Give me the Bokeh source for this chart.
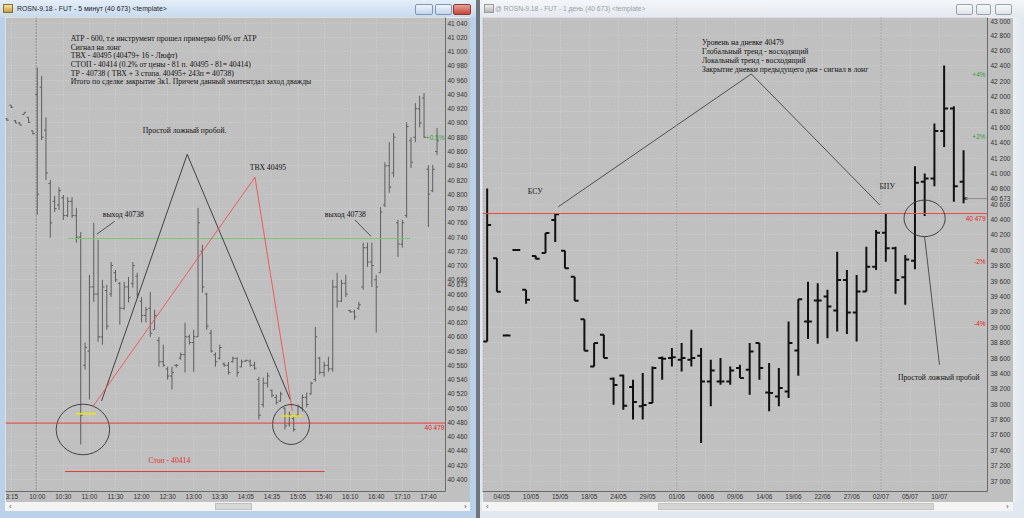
from bokeh.plotting import figure
from bokeh.layouts import row, column
from bokeh.models import ColumnDataSource, FixedTicker, Span, Range1d, Div
from bokeh.core.properties import value
from bokeh.embed import file_html
from bokeh.resources import INLINE

# ---------------- 5-minute chart data ----------------
m5_index = list(range(-7, 93))
m5_high = [40907, 40925, 40904, 40901, 40915, 40908, 40889,
           40978, 40966, 40908, 40820, 40798, 40810, 40799, 40796, 40796, 40781,
           40747, 40592, 40687, 40760, 40736, 40680, 40673, 40705, 40694, 40677,
           40677, 40684, 40705, 40690, 40656, 40642, 40663, 40638, 40600, 40589,
           40558, 40558, 40562, 40578, 40620, 40603, 40610, 40781, 40729, 40662,
           40610, 40578, 40589, 40564, 40565, 40572, 40571, 40568, 40568, 40568,
           40565, 40544, 40543, 40550, 40526, 40519, 40523, 40501, 40495, 40488,
           40505, 40519, 40522, 40537, 40614, 40572, 40565, 40572, 40680, 40690,
           40680, 40687, 40638, 40638, 40649, 40732, 40732, 40732, 40687, 40782,
           40845, 40873, 40886, 40764, 40764, 40901, 40880, 40928, 40938, 40942,
           40841, 40841, 40893]
m5_low = [40903, 40921, 40900, 40897, 40912, 40900, 40884,
          40771, 40876, 40820, 40739, 40775, 40778, 40764, 40768, 40767, 40732,
          40449, 40554, 40512, 40649, 40593, 40589, 40610, 40656, 40677, 40617,
          40638, 40648, 40669, 40655, 40620, 40620, 40600, 40610, 40558, 40558,
          40540, 40526, 40557, 40568, 40550, 40589, 40551, 40600, 40662, 40610,
          40578, 40558, 40568, 40558, 40547, 40564, 40544, 40557, 40565, 40558,
          40554, 40484, 40501, 40529, 40515, 40505, 40509, 40470, 40474, 40467,
          40488, 40495, 40501, 40519, 40537, 40547, 40544, 40551, 40551, 40641,
          40649, 40656, 40634, 40624, 40638, 40666, 40698, 40670, 40606, 40690,
          40782, 40802, 40824, 40712, 40725, 40767, 40837, 40873, 40894, 40879,
          40754, 40803, 40855]
m5_open = [40906, 40925, 40903, 40900, 40912, 40908, 40889,
           40940, 40950, 40890, 40815, 40790, 40785, 40795, 40770, 40790, 40770,
           40740, 40560, 40580, 40670, 40660, 40600, 40665, 40660, 40690, 40675,
           40640, 40670, 40675, 40685, 40650, 40630, 40640, 40610, 40595, 40565,
           40555, 40545, 40560, 40570, 40575, 40600, 40592, 40600, 40720, 40660,
           40605, 40575, 40570, 40562, 40560, 40565, 40570, 40558, 40566, 40566,
           40560, 40540, 40505, 40535, 40525, 40515, 40510, 40500, 40478, 40485,
           40490, 40500, 40515, 40520, 40540, 40570, 40550, 40560, 40555, 40670,
           40650, 40675, 40637, 40635, 40640, 40670, 40725, 40705, 40680, 40690,
           40785, 40840, 40830, 40760, 40730, 40770, 40875, 40880, 40920, 40935,
           40835, 40805, 40860]
m5_close = [40904, 40922, 40900, 40897, 40915, 40901, 40885,
            40800, 40880, 40830, 40760, 40780, 40805, 40770, 40790, 40770, 40740,
            40490, 40585, 40670, 40660, 40600, 40670, 40615, 40700, 40680, 40640,
            40670, 40655, 40700, 40660, 40630, 40638, 40605, 40630, 40565, 40560,
            40545, 40550, 40560, 40575, 40600, 40592, 40600, 40760, 40670, 40615,
            40580, 40565, 40585, 40560, 40550, 40570, 40550, 40565, 40567, 40560,
            40556, 40490, 40535, 40545, 40518, 40508, 40520, 40475, 40490, 40470,
            40502, 40515, 40505, 40535, 40600, 40550, 40560, 40555, 40670, 40650,
            40675, 40660, 40635, 40628, 40645, 40725, 40705, 40700, 40670, 40775,
            40840, 40810, 40880, 40730, 40760, 40895, 40845, 40920, 40900, 40880,
            40800, 40835, 40875]
m5_tick_pos = [-6, 0, 6, 12, 18, 24, 30, 36, 42, 48, 54, 60, 66, 72, 78, 84, 90]
m5_tick_labels = ["3:15", "10:00", "10:30", "11:00", "11:30", "12:00", "12:30", "13:00",
                  "13:30", "14:05", "14:35", "15:05", "15:40", "16:10", "16:40", "17:10", "17:40"]
m5_price_ticks = list(range(40400, 41041, 20))

# ---------------- daily chart data ----------------
d1_index = list(range(1, 51))
d1_open = [38815, 39897, 38892, 40005, 39486, 39927, 39966, 40394, 39996, 39658,
           39105, 38490, 38902, 38330, 38373, 38223, 37971, 38015, 38600, 38599,
           38577, 38577, 38629, 38296, 38296, 38296, 38469, 38447, 38794, 38153,
           38101, 38166, 38698, 39074, 39347, 39399, 39217, 39615, 39191, 39464,
           39788, 40229, 40027, 39650, 39866, 40891, 40935, 41553, 41843, 40891]
d1_high = [40805, 39897, 38905, 40015, 39486, 39930, 40225, 40479, 39996, 39658,
           39105, 38794, 38902, 38348, 38382, 38318, 38405, 38490, 38620, 38729,
           38794, 38966, 38729, 38577, 38599, 38490, 38512, 38794, 38794, 38534,
           38469, 39074, 39365, 39593, 39572, 39486, 39983, 39745, 39680, 40048,
           40264, 40472, 40048, 39940, 41095, 41000, 41649, 42405, 41873, 41302]
d1_low = [38815, 39463, 38885, 39995, 39304, 39885, 39966, 40108, 39767, 39343,
          38694, 38490, 38599, 37993, 37928, 37799, 37799, 38015, 38318, 38490,
          38425, 38490, 37496, 37971, 38253, 38253, 38340, 38123, 38318, 37906,
          37971, 38080, 38369, 38846, 38785, 38858, 38944, 38911, 38815, 39464,
          39745, 39853, 39434, 39291, 39754, 40446, 40835, 41345, 40631, 40611]
d1_close = [40329, 39463, 38892, 40005, 39356, 39890, 40225, 40470, 39767, 39343,
            38694, 38794, 38599, 38250, 37980, 38028, 37990, 38469, 38590, 38610,
            38599, 38599, 38296, 38438, 38296, 38438, 38340, 38685, 38469, 38145,
            38210, 38794, 39365, 39074, 39347, 39269, 39615, 39191, 39464, 39788,
            40229, 40027, 39615, 39880, 40878, 40935, 41553, 41843, 40835, 40673]
d1_tick_pos = [2.5, 5.5, 8.5, 11.5, 14.5, 17.5, 20.5, 23.5, 26.5, 29.5, 32.5, 35.5,
               38.5, 41.5, 44.5, 47.5]
d1_tick_labels = ["04/05", "10/05", "15/05", "18/05", "24/05", "29/05", "01/06", "06/06",
                  "09/06", "14/06", "19/06", "22/06", "27/06", "02/07", "05/07", "10/07"]
d1_price_ticks = list(range(37000, 43001, 200))

level = 40479
exit_price = 40738
last_price = 40673

# annotation data (bar index, price)
m5_black_x = [14.8, 34.5, 58.2]
m5_black_y = [40510, 40856, 40512]
m5_red_x = [12.9, 50.1, 58.7]
m5_red_y = [40503, 40824, 40496]
m5_notes = ["АТР - 600, т.е инструмент прошел примерно 60% от АТР",
            "Сигнал на лонг",
            "ТВХ - 40495 (40479+ 16 - Люфт)",
            "СТОП - 40414 (0.2% от цены - 81 п. 40495 - 81= 40414)",
            "ТР - 40738 ( ТВХ + 3 стопа. 40495+ 243п = 40738)",
            "Итого по сделке закрытие 3к1. Причем данный эмитентдал заход дважды"]
m5_notes_y = [41019, 41006, 40994, 40982, 40970, 40958]

d1_notes = ["Уровень на дневке 40479",
            "Глобальный тренд  - восходящий",
            "Локальный тренд - восходящий",
            "Закрытие дневки предыдущего дня - сигнал в лонг"]
d1_notes_y = [42709, 42582, 42465, 42348]
d1_lambda_x = [8.32, 28.17, 41.39]
d1_lambda_y = [40567, 42294, 40589]

BG = "#c0c0c0"
SERIF = value("Liberation Serif")
SANS = "Liberation Sans"
NOTE_SIZE = "7.7px"


def fmt(v):
    return "{:,}".format(v).replace(",", " ")


def ohlc(p, idx, o, h, l, c, tick, color, width):
    src = ColumnDataSource(dict(x=idx, xl=[i - tick for i in idx], xr=[i + tick for i in idx],
                                o=o, h=h, l=l, c=c))
    p.segment(x0="x", y0="l", x1="x", y1="h", source=src, line_color=color, line_width=width)
    p.segment(x0="xl", y0="o", x1="x", y1="o", source=src, line_color=color, line_width=width)
    p.segment(x0="x", y0="c", x1="xr", y1="c", source=src, line_color=color, line_width=width)


def style_axes(p, xt, xl, yt, standoff_y):
    xa = p.xaxis[0]
    xa.ticker = FixedTicker(ticks=xt)
    xa.major_label_overrides = {t: s for t, s in zip(xt, xl)}
    ya = p.yaxis[0]
    yticks = sorted(yt + [last_price])
    ya.ticker = FixedTicker(ticks=yticks)
    ya.major_label_overrides = {t: fmt(t) for t in yticks}
    for a in (xa, ya):
        a.major_tick_out = 0
        a.major_tick_in = 0
        a.minor_tick_out = 0
        a.minor_tick_in = 0
        a.major_label_text_font = SANS
        a.major_label_text_font_size = "6.5px"
        a.major_label_text_color = "#333333"
        a.axis_line_color = "#6a6a6a"
    xa.major_label_standoff = 1
    ya.major_label_standoff = standoff_y
    p.xgrid.ticker = FixedTicker(ticks=xt)
    p.ygrid.ticker = FixedTicker(ticks=yt)
    for g in (p.xgrid[0], p.ygrid[0]):
        g.grid_line_color = "#d0d0d0"
        g.grid_line_dash = "1 2"


def html_div(html, w, h):
    return Div(text=html, width=w, height=h, margin=0)


def strip(w, h, css):
    return html_div('<div style="width:%dpx;height:%dpx;background:%s"></div>' % (w, h, css), w, h)


# ================= left: 5 minutes =================
pL = figure(width=465, height=485, x_range=Range1d(-7.31, 93.94), y_range=Range1d(40383, 41048),
            output_backend="svg", toolbar_location=None, y_axis_location="right",
            min_border_left=0, min_border_right=22, min_border_top=0, min_border_bottom=10,
            background_fill_color=BG, border_fill_color=BG, outline_line_color=None)
style_axes(pL, m5_tick_pos, m5_tick_labels, m5_price_ticks, 2)

pL.add_layout(Span(location=-0.25, dimension="height", line_color="#5a5a5a", line_dash="1 2", line_width=1))
ohlc(pL, m5_index, m5_open, m5_high, m5_low, m5_close, 0.45, "#5e5e5e", 1)

pL.add_layout(Span(location=level, dimension="width", line_color="#e03a3a", line_width=1))
pL.line(x=[7.1, 85.9], y=[exit_price, exit_price], line_color="#74c474", line_width=1)
pL.line(x=[6.4, 66.1], y=[40411, 40411], line_color="#e03a3a", line_width=1)
pL.line(x=m5_black_x, y=m5_black_y, line_color="#222222", line_width=0.8)
pL.line(x=m5_red_x, y=m5_red_y, line_color="#f05050", line_width=0.9)
pL.line(x=[8.9, 13.5], y=[40492, 40492], line_color="#f2e600", line_width=1.5)
pL.line(x=[56.2, 60.8], y=[40489, 40489], line_color="#f2e600", line_width=1.5)
pL.ellipse(x=[10.5, 58.4], y=[40470, 40477], width=[12.3, 8.5], height=[71, 56],
           fill_color=None, line_color="#333333", line_width=0.9)
pL.line(x=[17.8, 13.7], y=[40762, 40744], line_color="#333333", line_width=0.8)
pL.line(x=[73.1, 76.8], y=[40764, 40741], line_color="#333333", line_width=0.8)

pL.text(x=[7.7] * len(m5_notes), y=m5_notes_y, text=m5_notes, text_font=SERIF,
        text_font_size=NOTE_SIZE, text_baseline="middle", text_color="#111111")
pL.text(x=[33.9, 53.3, 19.8, 70.9], y=[40889, 40838, 40771, 40772],
        text=["Простой ложный пробой.", "ТВХ  40495", "выход 40738", "выход 40738"],
        text_font=SERIF, text_font_size=NOTE_SIZE, text_baseline="middle", text_align="center",
        text_color="#111111")
pL.text(x=[30.4], y=[40427], text=["Стоп - 40414"], text_font=SERIF, text_font_size=NOTE_SIZE,
        text_baseline="middle", text_align="center", text_color="#e03030")
pL.text(x=[93.7], y=[40473], text=["40 479"], text_font=value(SANS), text_font_size="6.5px",
        text_baseline="middle", text_align="right", text_color="#e02020")
pL.text(x=[93.7], y=[40880], text=["+0.5%"], text_font=value(SANS), text_font_size="6.5px",
        text_baseline="middle", text_align="right", text_color="#3a9a3a")

# ================= right: daily =================
pR = figure(width=531, height=485, x_range=Range1d(0.52, 52.46), y_range=Range1d(36864, 43028),
            output_backend="svg", toolbar_location=None, y_axis_location="right",
            min_border_left=0, min_border_right=23, min_border_top=0, min_border_bottom=10,
            background_fill_color=BG, border_fill_color=BG, outline_line_color=None)
style_axes(pR, d1_tick_pos, d1_tick_labels, d1_price_ticks, 3)

for loc in (0.56, 20.5, 41.5):
    pR.add_layout(Span(location=loc, dimension="height", line_color="#8a8a8a",
                       line_dash="1 2", line_width=1))
ohlc(pR, d1_index, d1_open, d1_high, d1_low, d1_close, 0.4, "#111111", 2)
pR.line(x=[0.52, 52.46], y=[level, level], line_color="#f04a44", line_width=1.2)

pR.line(x=d1_lambda_x, y=d1_lambda_y, line_color="#333333", line_width=0.8)
pR.ellipse(x=[45.99], y=[40416], width=[4.23], height=[475], fill_color=None,
           line_color="#333333", line_width=0.9)
pR.line(x=[45.99, 47.52], y=[40177, 38512], line_color="#333333", line_width=0.8)
pR.line(x=[50.2, 52.46], y=[last_price, last_price], line_color="#8a8a8a", line_width=1)

pR.text(x=[23.1] * len(d1_notes), y=d1_notes_y, text=d1_notes, text_font=SERIF,
        text_font_size=NOTE_SIZE, text_baseline="middle", text_color="#111111")
pR.text(x=[5.94, 42.14, 47.45], y=[40761, 40826, 38340],
        text=["БСУ", "БПУ", "Простой ложный пробой"], text_font=SERIF, text_font_size=NOTE_SIZE,
        text_baseline="middle", text_align="center", text_color="#111111")
pR.text(x=[52.26] * 2, y=[42289, 41475], text=["+4%", "+2%"], text_font=value(SANS),
        text_font_size="6.5px", text_baseline="middle", text_align="right", text_color="#3a9a3a")
pR.text(x=[52.26] * 3, y=[40416, 39853, 39044], text=["40 479", "-2%", "-4%"],
        text_font=value(SANS), text_font_size="6.5px", text_baseline="middle",
        text_align="right", text_color="#e02020")

# ================= window chrome =================
FONT = "font-family:'Liberation Sans',Arial,sans-serif;"


def button(left, w, bg, border):
    return ('<span style="position:absolute;left:%dpx;top:4px;width:%dpx;height:11px;'
            'box-sizing:border-box;border:1px solid %s;border-radius:2px;background:%s"></span>'
            % (left, w, border, bg))


titleL = html_div(
    '<div style="position:relative;width:476px;height:17px;overflow:hidden;'
    'background:linear-gradient(#e4eef9,#c8daee);%s">' % FONT
    + '<span style="position:absolute;left:3px;top:4px;width:10px;height:9px;'
      'background:linear-gradient(#f3e3a0,#c9a040);border:1px solid #8a7030;box-sizing:border-box"></span>'
    + '<span style="position:absolute;left:17px;top:3px;font-size:6.9px;line-height:11px;'
      'white-space:nowrap;color:#1e1e1e">ROSN-9.18 - FUT - 5 минут (40 673) &lt;template&gt;</span>'
    + button(415, 18, "linear-gradient(#eef4fb,#c3d5ea)", "#7f97b5")
    + button(435, 17, "linear-gradient(#eef4fb,#c3d5ea)", "#7f97b5")
    + button(453, 18, "linear-gradient(#e8a295,#c4473a)", "#8a3a30")
    + '</div>', 476, 17)

bottomL = html_div(
    '<div style="position:relative;width:476px;height:16px;overflow:hidden;background:#b9d1ea;%s">' % FONT
    + '<div style="position:absolute;left:5px;top:0px;width:465px;height:9px;background:#f4f4f4"></div>'
    + '<div style="position:absolute;left:215px;top:1px;width:37px;height:7px;background:#d8d8d8;'
      'border:1px solid #c0c0c0;box-sizing:border-box"></div>'
    + '<span style="position:absolute;left:9px;top:-1px;font-size:8px;color:#555">‹</span>'
    + '<span style="position:absolute;left:464px;top:-1px;font-size:8px;color:#555">›</span>'
    + '</div>', 476, 16)

titleR = html_div(
    '<div style="position:relative;width:544px;height:17px;overflow:hidden;'
    'background:linear-gradient(#f4f6f9,#e4e9ef);%s">' % FONT
    + '<span style="position:absolute;left:4px;top:4px;width:10px;height:9px;'
      'background:linear-gradient(#eeeeee,#b8b8b8);border:1px solid #9a9a9a;box-sizing:border-box"></span>'
    + '<span style="position:absolute;left:15px;top:3px;font-size:6.7px;line-height:11px;'
      'white-space:nowrap;color:#9aa0a6">@ ROSN-9.18 - FUT - 1 день (40 673) &lt;template&gt;</span>'
    + button(476, 17, "linear-gradient(#f7f8fa,#dfe4ea)", "#9aa4b0")
    + button(496, 15, "linear-gradient(#f7f8fa,#dfe4ea)", "#9aa4b0")
    + button(515, 17, "linear-gradient(#f7f8fa,#dfe4ea)", "#9aa4b0")
    + '</div>', 544, 17)

bottomR = html_div(
    '<div style="position:relative;width:544px;height:16px;overflow:hidden;background:#e2e8ef;%s">' % FONT
    + '<div style="position:absolute;left:2px;top:0px;width:531px;height:9px;background:#f4f4f4"></div>'
    + '<div style="position:absolute;left:178px;top:1px;width:276px;height:7px;background:#d4d4d4;'
      'border:1px solid #c4c4c4;box-sizing:border-box"></div>'
    + '<span style="position:absolute;left:6px;top:-1px;font-size:8px;color:#555">‹</span>'
    + '<span style="position:absolute;left:526px;top:-1px;font-size:8px;color:#555">›</span>'
    + '</div>', 544, 16)

left_win = column(titleL,
                  row(strip(5, 485, "#b9d1ea"), pL, strip(6, 485, "#b9d1ea")),
                  bottomL)
gap = strip(4, 518, "#6f757c")
right_win = column(titleR,
                   row(strip(2, 485, "#dfe5ec"), pR, strip(11, 485, "linear-gradient(90deg,#eceff2,#dfe7f0)")),
                   bottomR)

layout = row(left_win, gap, right_win)
open("out.html", "w").write(file_html(layout, INLINE))
